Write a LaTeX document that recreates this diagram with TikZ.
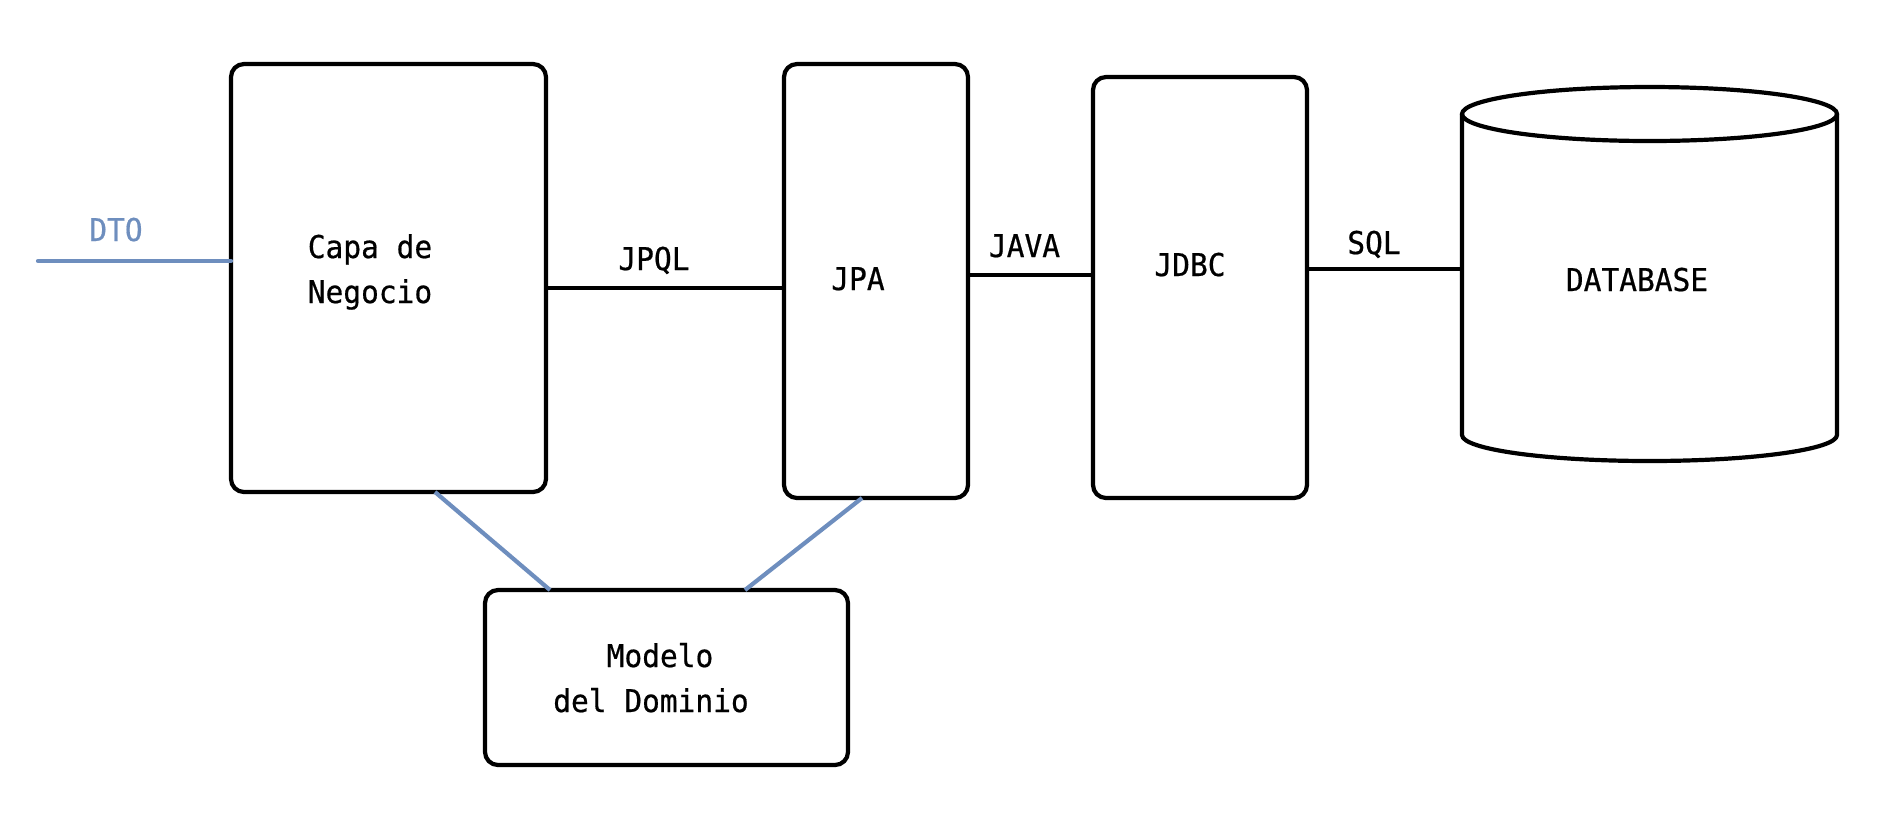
\documentclass[tikz,border=0pt]{standalone}
\usepackage{fontspec}
\setmainfont[FakeStretch=0.94,FakeBold=0.6]{DejaVu Sans Mono}
\definecolor{dtoblue}{RGB}{110,142,190}

\begin{document}
\begin{tikzpicture}[x=0.5pt,y=-0.5pt,
        caja/.style={draw,line width=2.1pt,rounded corners=6.5pt,inner sep=0pt,outer sep=0pt},
        txt/.style={anchor=base,inner sep=0pt,font=\fontsize{15.7}{18}\selectfont},
        enlace/.style={line width=2.1pt},
        azul/.style={dtoblue,line width=2.1pt}]
        \useasboundingbox(0,0)rectangle(1896,827);
        % capas
        \node[caja,minimum width=157.5pt,minimum height=214pt](negocio) at (388.5,278){};
        \node[caja,minimum width=92pt,minimum height=217pt](jpa) at (876,281){};
        \node[caja,minimum width=107pt,minimum height=210.5pt](jdbc) at (1200,287.5){};
        \node[caja,minimum width=181.5pt,minimum height=87.5pt](modelo) at (666.5,677.5){};
        % base de datos
        \coordinate (dbl) at (1462,269);
        \draw[enlace](1649.5,114) ellipse [x radius=93.75pt,y radius=13.5pt];
        \draw[enlace](1462,114)--(1462,435) arc[start angle=180,end angle=360,x radius=93.75pt,y radius=13pt]--(1837,114);
        % textos
        \node[txt,dtoblue](dto) at (116,241){DTO};
        \node[txt](capade) at (370,258){Capa de};
        \node[txt](negtxt) at (370,303){Negocio};
        \node[txt](jpql) at (654,270){JPQL};
        \node[txt](jpatxt) at (858,290){JPA};
        \node[txt](java) at (1024.5,257){JAVA};
        \node[txt](jdbctxt) at (1190,276){JDBC};
        \node[txt](sql) at (1374,254){SQL};
        \node[txt](dbtxt) at (1637,291){DATABASE};
        \node[txt](modtxt) at (660,667){Modelo};
        \node[txt](domtxt) at (651,712){del Dominio};
        % enlaces
        \coordinate (dtoin) at (38,261);
        \draw[azul,line cap=round](dtoin)--(dtoin -| negocio.west);
        \draw[enlace](negocio.east |- 0,288)--(jpa.west |- 0,288);
        \draw[enlace](jpa.east |- 0,275)--(jdbc.west |- 0,275);
        \draw[enlace](jdbc.east |- dbl)--(dbl);
        \draw[azul](negocio.south -| 435,0)--(modelo.north -| 550,0);
        \draw[azul](jpa.south -| 862,0)--(modelo.north -| 745,0);
    \end{tikzpicture}
\end{document}
